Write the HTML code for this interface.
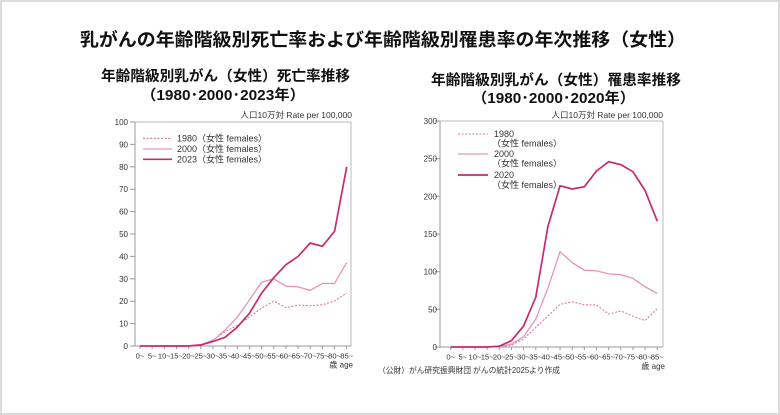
<!DOCTYPE html>
<html><head><meta charset="utf-8"><style>
html,body{margin:0;padding:0;background:#fff;}
svg{display:block;}
text{font-family:"Liberation Sans","Noto Sans CJK JP",sans-serif;}
.t{font-family:"Liberation Sans","Noto Sans CJK JP",sans-serif;font-weight:bold;fill:#111;}
.tk{font-size:8px;fill:#333;}
.xl{font-size:7.6px;fill:#333;text-anchor:middle;}
.lg{font-size:9px;fill:#333;}
</style></head><body>
<svg width="780" height="415" viewBox="0 0 780 415" xmlns="http://www.w3.org/2000/svg">
<rect x="1" y="1" width="778" height="413" fill="#fff" stroke="#dcdcdc" stroke-width="2"/>
<text class="t" x="80" y="46" font-size="18" textLength="606" lengthAdjust="spacingAndGlyphs">乳がんの年齢階級別死亡率および年齢階級別罹患率の年次推移（女性）</text>
<text class="t" x="101" y="81" font-size="14.5" textLength="249" lengthAdjust="spacingAndGlyphs">年齢階級別乳がん（女性）死亡率推移</text>
<text class="t" x="141" y="100" font-size="14.5" textLength="164" lengthAdjust="spacingAndGlyphs">（1980･2000･2023年）</text>
<text class="t" x="431" y="85" font-size="14.5" textLength="250" lengthAdjust="spacingAndGlyphs">年齢階級別乳がん（女性）罹患率推移</text>
<text class="t" x="472" y="103" font-size="14.5" textLength="163" lengthAdjust="spacingAndGlyphs">（1980･2000･2020年）</text>

<!-- LEFT CHART -->
<text x="352" y="118" font-size="8.5" fill="#333" text-anchor="end">人口10万対  Rate per 100,000</text>
<line x1="135" y1="122" x2="351" y2="122" stroke="#bbb" stroke-width="1"/>
<line x1="351" y1="122" x2="351" y2="346" stroke="#bbb" stroke-width="1"/>
<line x1="135" y1="122" x2="135" y2="346" stroke="#999" stroke-width="1"/>
<line x1="135" y1="346" x2="351" y2="346" stroke="#999" stroke-width="1"/>
<g stroke="#999" stroke-width="1">
<line x1="130" y1="346" x2="135" y2="346"/><line x1="130" y1="323.6" x2="135" y2="323.6"/><line x1="130" y1="301.2" x2="135" y2="301.2"/><line x1="130" y1="278.8" x2="135" y2="278.8"/><line x1="130" y1="256.4" x2="135" y2="256.4"/><line x1="130" y1="234" x2="135" y2="234"/><line x1="130" y1="211.6" x2="135" y2="211.6"/><line x1="130" y1="189.2" x2="135" y2="189.2"/><line x1="130" y1="166.8" x2="135" y2="166.8"/><line x1="130" y1="144.4" x2="135" y2="144.4"/><line x1="130" y1="122" x2="135" y2="122"/>
</g>
<g class="tk" text-anchor="end">
<text x="128" y="349">0</text><text x="128" y="326.6">10</text><text x="128" y="304.2">20</text><text x="128" y="281.8">30</text><text x="128" y="259.4">40</text><text x="128" y="237">50</text><text x="128" y="214.6">60</text><text x="128" y="192.2">70</text><text x="128" y="169.8">80</text><text x="128" y="147.4">90</text><text x="128" y="125">100</text>
</g>
<g stroke="#999" stroke-width="1">
<line x1="140" y1="346" x2="140" y2="349"/><line x1="152.16" y1="346" x2="152.16" y2="349"/><line x1="164.32" y1="346" x2="164.32" y2="349"/><line x1="176.48" y1="346" x2="176.48" y2="349"/><line x1="188.64" y1="346" x2="188.64" y2="349"/><line x1="200.8" y1="346" x2="200.8" y2="349"/><line x1="212.96" y1="346" x2="212.96" y2="349"/><line x1="225.12" y1="346" x2="225.12" y2="349"/><line x1="237.28" y1="346" x2="237.28" y2="349"/><line x1="249.44" y1="346" x2="249.44" y2="349"/><line x1="261.6" y1="346" x2="261.6" y2="349"/><line x1="273.76" y1="346" x2="273.76" y2="349"/><line x1="285.92" y1="346" x2="285.92" y2="349"/><line x1="298.08" y1="346" x2="298.08" y2="349"/><line x1="310.24" y1="346" x2="310.24" y2="349"/><line x1="322.4" y1="346" x2="322.4" y2="349"/><line x1="334.56" y1="346" x2="334.56" y2="349"/><line x1="346.72" y1="346" x2="346.72" y2="349"/>
</g>
<g class="xl">
<text x="140" y="358.5">0~</text><text x="152.16" y="358.5">5~</text><text x="164.32" y="358.5">10~</text><text x="176.48" y="358.5">15~</text><text x="188.64" y="358.5">20~</text><text x="200.8" y="358.5">25~</text><text x="212.96" y="358.5">30~</text><text x="225.12" y="358.5">35~</text><text x="237.28" y="358.5">40~</text><text x="249.44" y="358.5">45~</text><text x="261.6" y="358.5">50~</text><text x="273.76" y="358.5">55~</text><text x="285.92" y="358.5">60~</text><text x="298.08" y="358.5">65~</text><text x="310.24" y="358.5">70~</text><text x="322.4" y="358.5">75~</text><text x="334.56" y="358.5">80~</text><text x="346.72" y="358.5">85~</text>
</g>
<text x="353" y="367.5" font-size="8" fill="#333" text-anchor="end">歳 age</text>
<!-- series left -->
<polyline fill="none" stroke="#dc77a4" stroke-width="1.1" stroke-dasharray="2,1.6" points="140,346 152.16,346 164.32,346 176.48,346 188.64,346 200.8,344.9 212.96,340 225.12,331.7 237.28,325.4 249.44,316.9 261.6,308.1 273.76,301.2 285.92,307.5 298.08,305.2 310.24,305.7 322.4,304.8 334.56,301 346.72,293.1"/>
<polyline fill="none" stroke="#e693b7" stroke-width="1.3" points="140,346 152.16,346 164.32,346 176.48,346 188.64,346 200.8,345.3 212.96,340.6 225.12,329.9 237.28,317.3 249.44,299.9 261.6,282.2 273.76,278.8 285.92,286.2 298.08,286.9 310.24,290.4 322.4,283.5 334.56,283.5 346.72,262.4"/>
<polyline fill="none" stroke="#c82a6e" stroke-width="1.7" points="140,346 152.16,346 164.32,346 176.48,346 188.64,346 200.8,344.9 212.96,341.5 225.12,337.3 237.28,327.2 249.44,313.3 261.6,293.1 273.76,277.7 285.92,264.7 298.08,256.4 310.24,243 322.4,246.3 334.56,231.3 346.72,166.8"/>
<!-- legend left -->
<line x1="143" y1="138.3" x2="172" y2="138.3" stroke="#dc77a4" stroke-width="1.1" stroke-dasharray="2,1.6"/>
<line x1="143" y1="149" x2="172" y2="149" stroke="#e693b7" stroke-width="1.3"/>
<line x1="143" y1="159.3" x2="172" y2="159.3" stroke="#c82a6e" stroke-width="1.7"/>
<text class="lg" x="177" y="141.5">1980（女性 females）</text>
<text class="lg" x="177" y="152.2">2000（女性 females）</text>
<text class="lg" x="177" y="162.5">2023（女性 females）</text>

<!-- RIGHT CHART -->
<text x="663" y="118" font-size="8.5" fill="#333" text-anchor="end">人口10万対  Rate per 100,000</text>
<line x1="440" y1="121" x2="663" y2="121" stroke="#bbb" stroke-width="1"/>
<line x1="663" y1="121" x2="663" y2="347" stroke="#bbb" stroke-width="1"/>
<line x1="440" y1="121" x2="440" y2="347" stroke="#999" stroke-width="1"/>
<line x1="440" y1="347" x2="663" y2="347" stroke="#999" stroke-width="1"/>
<g stroke="#999" stroke-width="1">
<line x1="435" y1="347" x2="440" y2="347"/><line x1="435" y1="309.3" x2="440" y2="309.3"/><line x1="435" y1="271.7" x2="440" y2="271.7"/><line x1="435" y1="234" x2="440" y2="234"/><line x1="435" y1="196.3" x2="440" y2="196.3"/><line x1="435" y1="158.7" x2="440" y2="158.7"/><line x1="435" y1="121" x2="440" y2="121"/>
</g>
<g class="tk" text-anchor="end">
<text x="437" y="350">0</text><text x="437" y="312.3">50</text><text x="437" y="274.7">100</text><text x="437" y="237">150</text><text x="437" y="199.3">200</text><text x="437" y="161.7">250</text><text x="437" y="124">300</text>
</g>
<g stroke="#999" stroke-width="1">
<line x1="450.7" y1="347" x2="450.7" y2="350"/><line x1="462.85" y1="347" x2="462.85" y2="350"/><line x1="475" y1="347" x2="475" y2="350"/><line x1="487.15" y1="347" x2="487.15" y2="350"/><line x1="499.3" y1="347" x2="499.3" y2="350"/><line x1="511.45" y1="347" x2="511.45" y2="350"/><line x1="523.6" y1="347" x2="523.6" y2="350"/><line x1="535.75" y1="347" x2="535.75" y2="350"/><line x1="547.9" y1="347" x2="547.9" y2="350"/><line x1="560.05" y1="347" x2="560.05" y2="350"/><line x1="572.2" y1="347" x2="572.2" y2="350"/><line x1="584.35" y1="347" x2="584.35" y2="350"/><line x1="596.5" y1="347" x2="596.5" y2="350"/><line x1="608.65" y1="347" x2="608.65" y2="350"/><line x1="620.8" y1="347" x2="620.8" y2="350"/><line x1="632.95" y1="347" x2="632.95" y2="350"/><line x1="645.1" y1="347" x2="645.1" y2="350"/><line x1="657.25" y1="347" x2="657.25" y2="350"/>
</g>
<g class="xl">
<text x="450.7" y="359.5">0~</text><text x="462.85" y="359.5">5~</text><text x="475" y="359.5">10~</text><text x="487.15" y="359.5">15~</text><text x="499.3" y="359.5">20~</text><text x="511.45" y="359.5">25~</text><text x="523.6" y="359.5">30~</text><text x="535.75" y="359.5">35~</text><text x="547.9" y="359.5">40~</text><text x="560.05" y="359.5">45~</text><text x="572.2" y="359.5">50~</text><text x="584.35" y="359.5">55~</text><text x="596.5" y="359.5">60~</text><text x="608.65" y="359.5">65~</text><text x="620.8" y="359.5">70~</text><text x="632.95" y="359.5">75~</text><text x="645.1" y="359.5">80~</text><text x="657.25" y="359.5">85~</text>
</g>
<text x="665" y="369" font-size="8" fill="#333" text-anchor="end">歳 age</text>
<!-- series right -->
<polyline fill="none" stroke="#dc77a4" stroke-width="1.1" stroke-dasharray="2,1.6" points="450.7,347 462.85,347 475,347 487.15,347 499.3,346.8 511.45,345 523.6,339 535.75,327.4 547.9,316.1 560.05,304.4 572.2,301.8 584.35,304.8 596.5,305 608.65,314 620.8,311 632.95,316.1 645.1,320.6 657.25,308.6"/>
<polyline fill="none" stroke="#e693b7" stroke-width="1.3" points="450.7,347 462.85,347 475,347 487.15,347 499.3,346.6 511.45,344 523.6,336.7 535.75,319.1 547.9,288.2 560.05,251.7 572.2,262.6 584.35,270.2 596.5,270.9 608.65,273.9 620.8,274.7 632.95,278.4 645.1,286.7 657.25,293.5"/>
<polyline fill="none" stroke="#c82a6e" stroke-width="1.7" points="450.7,347 462.85,347 475,347 487.15,347 499.3,346.2 511.45,340.7 523.6,326 535.75,297.3 547.9,226.5 560.05,185.8 572.2,189 584.35,186.7 596.5,171 608.65,161.7 620.8,164.7 632.95,171.7 645.1,190.5 657.25,221.2"/>
<!-- legend right -->
<line x1="458" y1="134" x2="488" y2="134" stroke="#dc77a4" stroke-width="1.1" stroke-dasharray="2,1.6"/>
<line x1="458" y1="154" x2="488" y2="154" stroke="#e693b7" stroke-width="1.3"/>
<line x1="458" y1="175" x2="488" y2="175" stroke="#c82a6e" stroke-width="1.7"/>
<text class="lg" x="494" y="137.2">1980</text>
<text class="lg" x="492" y="146.5">（女性 females）</text>
<text class="lg" x="494" y="157">2000</text>
<text class="lg" x="492" y="166.5">（女性 females）</text>
<text class="lg" x="494" y="178">2020</text>
<text class="lg" x="492" y="188.2">（女性 females）</text>

<text x="378" y="373" font-size="8" fill="#333" textLength="182" lengthAdjust="spacingAndGlyphs">（公財）がん研究振興財団 がんの統計2025より作成</text>
</svg>
</body></html>
